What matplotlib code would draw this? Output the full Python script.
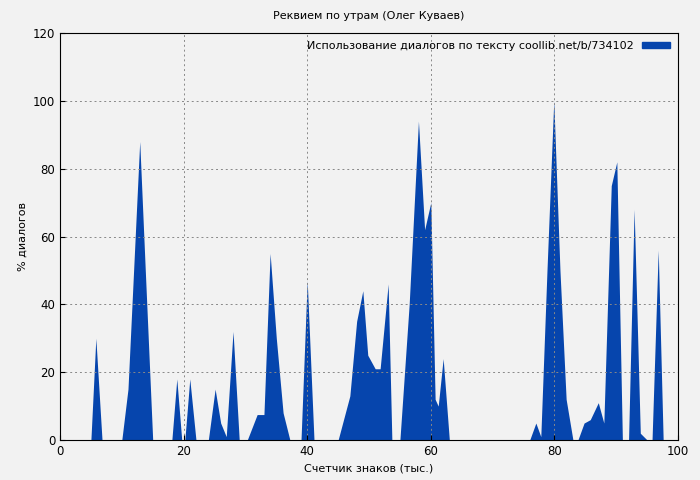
import matplotlib
matplotlib.use("Agg")
import matplotlib.pyplot as plt
from matplotlib.patches import Patch

x = [0, 5.0, 5.8, 6.8, 10.0, 11.0, 12.9, 13.8, 15.0, 18.1, 18.9, 19.7, 20.2, 21.0, 22.0,
     24.0, 25.1, 26.0, 26.9, 28.0, 29.0, 30.3, 31.9, 33.0, 34.0, 35.0, 36.1, 37.2,
     39.0, 40.0, 41.1, 45.0, 46.9, 48.0, 49.0, 49.8, 51.0, 51.8, 53.1, 53.7,
     55.0, 56.5, 58.0, 59.0, 60.0, 60.7, 61.2, 62.0, 63.0,
     76.0, 77.0, 77.8, 78.8, 79.9, 80.9, 81.9, 83.0,
     83.8, 84.8, 85.8, 87.1, 88.0, 89.2, 90.1, 91.0,
     92.0, 92.9, 93.9, 95.0, 95.8, 96.8, 97.6, 100]
y = [0, 0, 30, 0, 0, 15, 88, 50, 0, 0, 18, 0, 0, 18, 0,
     0, 15, 5, 1, 32, 0, 0, 7.5, 7.5, 55, 30, 8, 0,
     0, 47, 0, 0, 13, 35, 44, 25, 21, 21, 46, 0,
     0, 40, 94, 62, 70, 12, 10, 24, 0,
     0, 5, 1, 50, 100, 50, 12, 0,
     0, 5, 6, 11, 5, 75, 82, 0,
     0, 68, 2, 0, 0, 56, 0, 0]

legend_label = "Использование диалогов по тексту coollib.net/b/734102"
color = "#0645ad"

fig = plt.figure(figsize=(7, 4.8), dpi=100, facecolor="#f2f2f2")
ax = fig.add_axes([60/700, 40/480, 618/700, 407/480])
ax.set_facecolor("#f2f2f2")
ax.fill_between(x, y, 0, color=color, linewidth=0)
ax.set_xlim(0, 100)
ax.set_ylim(0, 120)
ax.set_xticks(range(0, 101, 20))
ax.set_yticks(range(0, 121, 20))
ax.grid(True, linestyle=(0, (2, 3)), color="#888888", linewidth=0.7)
ax.tick_params(labelsize=8.5, direction="in")
ax.set_title("Реквием по утрам (Олег Куваев)", fontsize=8, pad=10)
ax.set_xlabel("Счетчик знаков (тыс.)", fontsize=8)
ax.set_ylabel("% диалогов", fontsize=8)
leg = ax.legend(handles=[Patch(color=color, label=legend_label)], loc="upper right",
                frameon=False, fontsize=8, markerfirst=False, handlelength=2.5,
                handleheight=0.4, borderaxespad=0.3)
fig.savefig("out.png", dpi=100, facecolor=fig.get_facecolor())
